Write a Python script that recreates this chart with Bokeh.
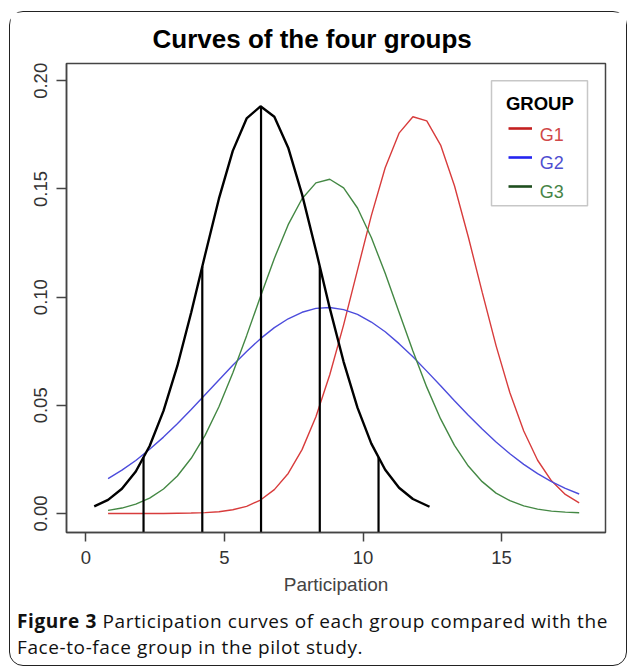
from bokeh.plotting import figure
from bokeh.layouts import column
from bokeh.models import (Range1d, FixedTicker, Label, Legend, LegendItem, Div,
                          BoxAnnotation, CustomJSTickFormatter)
from bokeh.embed import file_html
from bokeh.resources import INLINE

# ---------------- data ----------------
title_text = "Curves of the four groups"
x_label = "Participation"
caption_bold = "Figure 3"
caption_line1 = "Participation curves of each group compared with the"
caption_line2 = "Face-to-face group in the pilot study."
legend_title = "GROUP"
group_names = ["G1", "G2", "G3"]

x_ticks = [0, 5, 10, 15]
x_tick_labels = ["0", "5", "10", "15"]
y_ticks = [0.0, 0.05, 0.10, 0.15, 0.20]
y_tick_labels = ["0.00", "0.05", "0.10", "0.15", "0.20"]

g_x = [0.8, 1.3, 1.8, 2.3, 2.8, 3.3, 3.8, 4.3, 4.8, 5.3, 5.8, 6.3, 6.8, 7.3,
       7.8, 8.3, 8.8, 9.3, 9.8, 10.3, 10.8, 11.3, 11.8, 12.3, 12.8, 13.3,
       13.8, 14.3, 14.8, 15.3, 15.8, 16.3, 16.8, 17.3, 17.8]
g1_y = [0.0000, 0.0000, 0.0000, 0.0000, 0.0000, 0.0001, 0.0002, 0.0004, 0.0008,
        0.0017, 0.0033, 0.0062, 0.0110, 0.0185, 0.0295, 0.0447, 0.0641, 0.0872,
        0.1125, 0.1377, 0.1598, 0.1758, 0.1834, 0.1815, 0.1703, 0.1515, 0.1278,
        0.1023, 0.0776, 0.0558, 0.0381, 0.0246, 0.0151, 0.0088, 0.0049]
g2_y = [0.0161, 0.0200, 0.0245, 0.0297, 0.0353, 0.0415, 0.0481, 0.0549, 0.0617,
        0.0685, 0.0749, 0.0808, 0.0859, 0.0900, 0.0930, 0.0948, 0.0952, 0.0942,
        0.0920, 0.0885, 0.0840, 0.0785, 0.0724, 0.0658, 0.0590, 0.0521, 0.0454,
        0.0390, 0.0330, 0.0276, 0.0227, 0.0184, 0.0147, 0.0116, 0.0090]
g3_y = [0.0014, 0.0025, 0.0043, 0.0071, 0.0113, 0.0173, 0.0255, 0.0361, 0.0493,
        0.0649, 0.0822, 0.1003, 0.1179, 0.1335, 0.1455, 0.1528, 0.1545, 0.1505,
        0.1412, 0.1276, 0.1110, 0.0930, 0.0751, 0.0584, 0.0437, 0.0315, 0.0219,
        0.0147, 0.0094, 0.0059, 0.0035, 0.0020, 0.0011, 0.0006, 0.0003]

f2f_x = [0.3, 0.8, 1.3, 1.8, 2.3, 2.8, 3.3, 3.8, 4.3, 4.8, 5.3, 5.8, 6.3, 6.8,
         7.3, 7.8, 8.3, 8.8, 9.3, 9.8, 10.3, 10.8, 11.3, 11.8, 12.4]
f2f_y = [0.0033, 0.0063, 0.0114, 0.0194, 0.0312, 0.0474, 0.0682, 0.0929, 0.1195,
         0.1455, 0.1676, 0.1826, 0.1882, 0.1834, 0.1691, 0.1475, 0.1217, 0.0949,
         0.0701, 0.0489, 0.0323, 0.0202, 0.0119, 0.0067, 0.0031]

vline_x = [2.08, 4.20, 6.32, 8.44, 10.56]
vline_top = [0.0260, 0.1142, 0.1882, 0.1142, 0.0260]

X_MIN, X_MAX = -0.70, 18.75
Y_MIN, Y_MAX = -0.0088, 0.208

# ---------------- styles ----------------
curve_colors = ["#d83c3c", "#4c4cdc", "#448844"]
key_colors = ["#c42020", "#2424f0", "#1e4e1e"]
text_colors = ["#d04848", "#4e4ed0", "#468446"]
AXIS_COL = "#444444"
SANS = "Liberation Sans"

p = figure(frame_width=539, frame_height=469,
           x_range=Range1d(X_MIN, X_MAX), y_range=Range1d(Y_MIN, Y_MAX),
           output_backend="svg", toolbar_location=None,
           min_border_left=56, min_border_right=21,
           min_border_top=50, min_border_bottom=67)
p.grid.visible = False
p.outline_line_color = AXIS_COL
p.outline_line_width = 1.5
p.background_fill_color = "white"
p.border_fill_color = "white"

p.title.text = title_text
p.title.align = "left"
p.title.offset = 86
p.title.text_font = SANS
p.title.text_font_style = "bold"
p.title.text_font_size = "26px"
p.title.text_color = "black"
p.title.standoff = 19

JS_LOOKUP = """
    let best = 0;
    for (let i = 0; i < tv.length; i++) {
        if (Math.abs(tv[i] - tick) < Math.abs(tv[best] - tick)) best = i;
    }
    return tl[best];
"""
fmt_x = CustomJSTickFormatter(args=dict(tv=x_ticks, tl=x_tick_labels), code=JS_LOOKUP)
fmt_y = CustomJSTickFormatter(args=dict(tv=y_ticks, tl=y_tick_labels), code=JS_LOOKUP)

xa = p.xaxis[0]
ya = p.yaxis[0]
xa.ticker = FixedTicker(ticks=x_ticks)
ya.ticker = FixedTicker(ticks=y_ticks)
xa.formatter = fmt_x
ya.formatter = fmt_y
for ax in (xa, ya):
    ax.axis_line_color = AXIS_COL
    ax.axis_line_width = 1.5
    ax.major_tick_line_color = AXIS_COL
    ax.major_tick_line_width = 1.5
    ax.minor_tick_line_color = None
    ax.major_tick_in = 0
    ax.major_label_text_font = SANS
    ax.major_label_text_font_size = "18.5px"
    ax.major_label_text_color = "#333333"
xa.major_tick_out = 9
ya.major_tick_out = 10
xa.major_label_standoff = 9
ya.major_label_standoff = 9
ya.major_label_orientation = "vertical"
xa.axis_label = x_label
xa.axis_label_text_font = SANS
xa.axis_label_text_font_style = "normal"
xa.axis_label_text_font_size = "19px"
xa.axis_label_text_color = "#444444"
xa.axis_label_standoff = 7

# curves
for xs, ys, c in zip([g_x, g_x, g_x], [g1_y, g2_y, g3_y], curve_colors):
    p.line(xs, ys, line_color=c, line_width=1.4)
p.line(f2f_x, f2f_y, line_color="black", line_width=2.4)
p.segment(x0=vline_x, y0=[Y_MIN] * len(vline_x), x1=vline_x, y1=vline_top,
          line_color="black", line_width=2.2)

# hidden renderers that only provide the (darker, thicker) legend keys
keys = [p.line(g_x, ys, line_color=c, line_width=2.6, visible=False)
        for ys, c in zip([g1_y, g2_y, g3_y], key_colors)]
legend = Legend(items=[LegendItem(label=n, renderers=[r]) for n, r in zip(group_names, keys)],
                location=(441.5, 334.5), glyph_width=24, glyph_height=24,
                label_width=0, label_standoff=0, spacing=5, padding=0, margin=0,
                border_line_color=None, background_fill_alpha=0,
                label_text_alpha=0, label_text_font_size="2px")
p.add_layout(legend)

box = BoxAnnotation(left=425, right=521, bottom=326.7, top=451.7,
                    left_units="screen", right_units="screen",
                    top_units="screen", bottom_units="screen",
                    fill_color=None, fill_alpha=0, line_color=AXIS_COL, line_width=1.5)
p.add_layout(box)

p.add_layout(Label(x=473.3, y=428.7, x_units="screen", y_units="screen",
                   text=legend_title, text_align="center", text_baseline="alphabetic",
                   text_font=SANS, text_font_style="bold", text_font_size="18.5px",
                   text_color="black"))
for i, (n, tc) in enumerate(zip(group_names, text_colors)):
    p.add_layout(Label(x=473.3, y=398 - 28.7 * i, x_units="screen", y_units="screen",
                       text=n, text_align="left", text_baseline="alphabetic",
                       text_font=SANS, text_font_size="18px", text_color=tc))

# caption (HTML text below the plot)
cap_html = (
    '<div style="font-family:\'Open Sans\';font-size:19px;line-height:26px;'
    'letter-spacing:0.6px;color:#111;white-space:nowrap;padding:9px 0 0 7px;margin:0;">'
    f'<b>{caption_bold}</b> {caption_line1}<br>{caption_line2}</div>'
)
cap = Div(text=cap_html, width=616, height=66, margin=0)

lay = column(p, cap, spacing=0,
             styles={"border": "1.5px solid #222222", "border-radius": "14px",
                     "margin-left": "9px", "margin-top": "11px"})

open("out.html", "w").write(file_html(lay, INLINE))
